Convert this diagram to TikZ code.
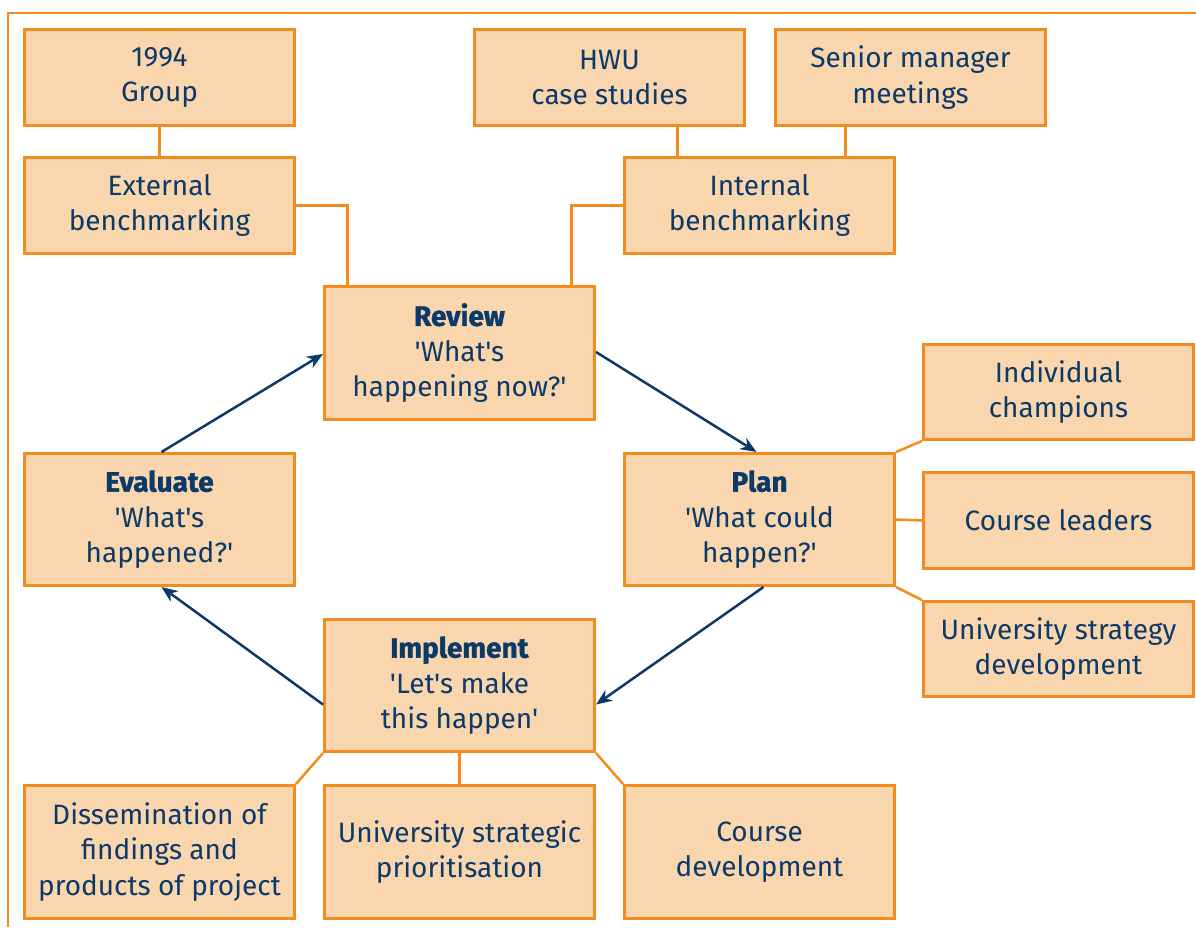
\documentclass[tikz,border=0pt]{standalone}
\usepackage{fontspec}
\setmainfont{Fira Sans}[Ligatures=TeXOff, BoldFeatures={FakeBold=1.3}]
\usetikzlibrary{arrows.meta}
\definecolor{boxfill}{HTML}{FAD6AF}
\definecolor{boxline}{HTML}{F28C1E}
\definecolor{navy}{HTML}{0B3A68}
\tikzset{
  box/.style={draw=boxline, fill=boxfill, line width=3pt, rectangle,
    minimum width=270pt, anchor=north west, align=center, inner sep=0pt,
    text=navy, font=\fontsize{28}{35.5}\selectfont},
  link/.style={draw=boxline, line width=2.5pt},
  flow/.style={draw=navy, line width=2.5pt, -{Stealth[length=16pt,width=13pt,inset=5pt]}},
  frame/.style={draw=boxline, line width=2.5pt}
}
\begin{document}
\begin{tikzpicture}[x=1pt,y=-1pt]
\useasboundingbox (0,0) rectangle (1196,927);
\coordinate (fa) at (8,927);
\coordinate (fb) at (8,13);
\coordinate (fc) at (1196,13);
\draw[frame] (fa) -- (fb) -- (fc);

\node[box, minimum height=96pt] (g94) at (23,28) {1994\\Group};
\node[box, minimum height=96pt] (ext) at (23,156) {External\\benchmarking};
\node[box, minimum height=96pt] (hwu) at (473,28) {HWU\\case studies};
\node[box, minimum height=96pt] (sen) at (774,28) {Senior manager\\meetings};
\node[box, minimum height=96pt] (int) at (623,156) {Internal\\benchmarking};
\node[box, minimum height=133pt] (rev) at (323,285) {\textbf{Review}\\'What's\\happening now?'};
\node[box, minimum height=132pt] (eva) at (23,452) {\textbf{Evaluate}\\'What's\\happened?'};
\node[box, minimum height=132pt] (pla) at (623,452) {\textbf{Plan}\\'What could\\happen?'};
\node[box, minimum height=95pt] (ind) at (922,343) {Individual\\champions};
\node[box, minimum height=96pt] (cou) at (922,471) {Course leaders};
\node[box, minimum height=95pt] (uns) at (922,600) {University strategy\\development};
\node[box, minimum height=132pt] (imp) at (323,618) {\textbf{Implement}\\'Let's make\\this happen'};
\node[box, minimum height=133pt] (dis) at (23,784) {Dissemination of\\findings and\\products of project};
\node[box, minimum height=133pt] (usp) at (323,784) {University strategic\\prioritisation};
\node[box, minimum height=133pt] (cdv) at (623,784) {Course\\development};

% links
\draw[link] (g94.south) -- (ext.north);
\draw[link] (ext.east) -| ([xshift=-112pt]rev.north);
\draw[link] ([xshift=68pt]hwu.south) -- ([xshift=-82pt]int.north);
\draw[link] ([xshift=-65pt]sen.south) -- ([xshift=86pt]int.north);
\draw[link] (int.west) -| ([xshift=112pt]rev.north);
\draw[link] (pla.north east) -- (ind.south west);
\draw[link] (pla.east) -- (cou.west);
\draw[link] (pla.south east) -- (uns.north west);
\draw[link] (imp.south west) -- (dis.north east);
\draw[link] (imp.south) -- (usp.north);
\draw[link] (imp.south east) -- (cdv.north west);

% flow arrows
\draw[flow] ([xshift=2pt]eva.north) -- ([yshift=-1pt]rev.west);
\draw[flow] ([yshift=1pt]rev.east) -- ([xshift=-3pt]pla.north);
\draw[flow] ([xshift=4pt]pla.south) -- ([yshift=-19pt]imp.east);
\draw[flow] ([yshift=-19pt]imp.west) -- ([xshift=2pt]eva.south);
\end{tikzpicture}
\end{document}
